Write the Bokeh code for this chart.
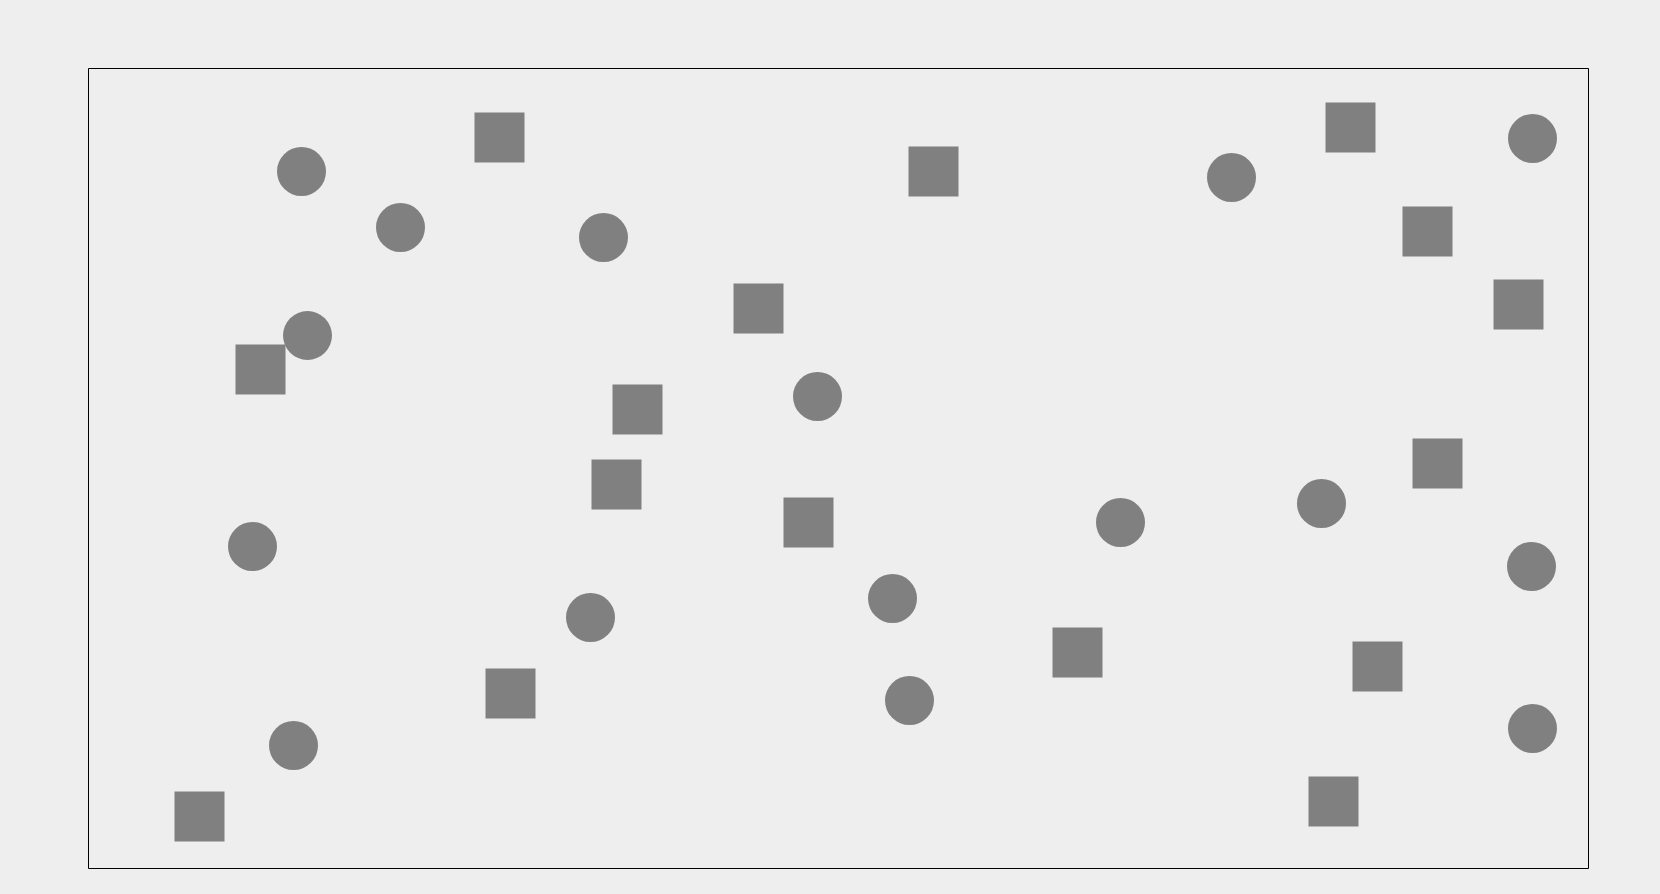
from bokeh.plotting import figure
from bokeh.models import Range1d
from bokeh.embed import file_html
from bokeh.resources import INLINE

# data (x in 0..1500, y in 0..800)
circle_x = [213, 312, 515, 219, 729, 164, 502, 205, 804, 821, 1032, 1143, 1233, 1444, 1443, 1444]
circle_y = [697, 641, 631, 533, 472, 322, 251, 123, 270, 168, 346, 691, 365, 730, 302, 140]
square_x = [411, 845, 670, 172, 549, 528, 720, 422, 111, 989, 1262, 1339, 1430, 1349, 1289, 1245]
square_y = [731, 697, 560, 499, 459, 384, 346, 175, 52, 216, 741, 637, 564, 405, 202, 67]

BG = "#eeeeee"
GRAY = "#808080"

p = figure(width=1660, height=894, output_backend="svg", toolbar_location=None,
           x_axis_type=None, y_axis_type=None,
           x_range=Range1d(0, 1500), y_range=Range1d(0, 800),
           min_border_left=88, min_border_right=72, min_border_top=68, min_border_bottom=26)
p.background_fill_color = BG
p.border_fill_color = BG
p.outline_line_color = "black"
p.outline_line_width = 1
p.grid.visible = False

p.scatter(circle_x, circle_y, marker="circle", size=49, fill_color=GRAY, line_color=None)
p.scatter(square_x, square_y, marker="square", size=50, fill_color=GRAY, line_color=None)

html = file_html(p, INLINE)
html = html.replace("</head>", "<style>html, body { background: #eeeeee; overflow: hidden; }</style>\n</head>", 1)
open("out.html", "w").write(html)
